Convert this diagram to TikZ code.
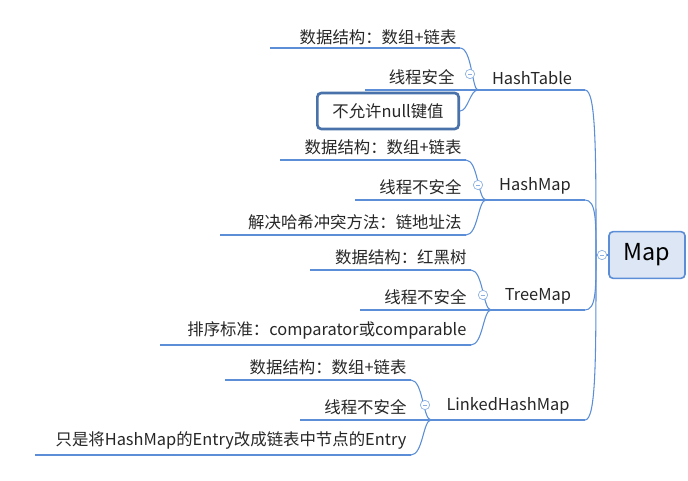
\documentclass[tikz,border=0pt]{standalone}
\usepackage{fontspec}
\setmainfont{Noto Sans CJK SC}
\definecolor{ln}{HTML}{5B8ED6}
\definecolor{mapfill}{HTML}{DCE6F4}
\begin{document}
\begin{tikzpicture}[x=0.75pt,y=-0.75pt,
  lf/.style={font=\fontsize{12.3}{14}\selectfont, inner sep=1pt, anchor=south east, text=black!85},
  par/.style={font=\fontsize{12.3}{14}\selectfont, inner sep=1pt, anchor=south, text=black!85},
  ul/.style={draw=ln, line width=1.3pt},
  cn/.style={draw=ln, line width=0.8pt},
  col/.style={circle, draw=ln!70, fill=white, minimum size=7pt, inner sep=0pt, line width=0.5pt}]
\useasboundingbox (0,0) rectangle (688,481);
% Map
\node[draw=ln, line width=1.2pt, fill=mapfill, rounded corners=3pt, minimum width=57pt, minimum height=35pt,
  font=\fontsize{17.5}{20}\selectfont] (map) at (647,255) {Map};
\coordinate (mj) at (596,255);
\draw[cn] (map.west) -- (mj);
% parents
\coordinate (p1a) at (478,90); \coordinate (p1b) at (585,90);
\coordinate (p2a) at (486,200); \coordinate (p2b) at (585,200);
\coordinate (p3a) at (491,310); \coordinate (p3b) at (585,310);
\coordinate (p4a) at (431,420); \coordinate (p4b) at (585,420);
\foreach \a/\b in {p1a/p1b,p2a/p2b,p3a/p3b,p4a/p4b} \draw[ul] (\a)--(\b);
\node[par] (ht) at (532,86) {HashTable};
\node[par] (hm) at (535,196) {HashMap};
\node[par] (tm) at (538,306) {TreeMap};
\node[par] (lhm) at (508,416) {LinkedHashMap};
\draw[cn] (mj) .. controls (596,150) and (596,90) .. (p1b);
\draw[cn] (mj) .. controls (596,220) and (596,200) .. (p2b);
\draw[cn] (mj) .. controls (596,290) and (596,310) .. (p3b);
\draw[cn] (mj) .. controls (596,360) and (596,420) .. (p4b);
\node[col] (mc) at (602,255) {}; \draw[ln!70, line width=0.5pt] (600,255)--(604,255);
% HashTable children
\node[lf] (a1) at (458,46) {数据结构：数组+链表};
\draw[ul] (270,48)--(460,48) coordinate (a1e);
\node[lf] (a2) at (456,86) {线程安全};
\draw[ul] (365,90)--(460,90) coordinate (a2e);
\node[draw=ln!80!black, line width=2pt, rounded corners=3pt, minimum width=106pt, minimum height=27pt,
  font=\fontsize{12.3}{14}\selectfont, text=black!85] (a3) at (388,111) {不允许null键值};
\coordinate (a3e) at (460,111);
% HashMap children
\node[lf] (b1) at (463,156) {数据结构：数组+链表};
\draw[ul] (280,160)--(466,160) coordinate (b1e);
\node[lf] (b2) at (463,196) {线程不安全};
\draw[ul] (355,200)--(466,200) coordinate (b2e);
\node[lf] (b3) at (463,231) {解决哈希冲突方法：链地址法};
\draw[ul] (220,235)--(466,235) coordinate (b3e);
% TreeMap children
\node[lf] (d1) at (468,266) {数据结构：红黑树};
\draw[ul] (310,270)--(471,270) coordinate (d1e);
\node[lf] (d2) at (468,306) {线程不安全};
\draw[ul] (360,310)--(471,310) coordinate (d2e);
\node[lf] (d3) at (468,341) {排序标准：comparator或comparable};
\draw[ul] (160,345)--(471,345) coordinate (d3e);
% LinkedHashMap children
\node[lf] (e1) at (408,376) {数据结构：数组+链表};
\draw[ul] (225,380)--(411,380) coordinate (e1e);
\node[lf] (e2) at (408,416) {线程不安全};
\draw[ul] (300,420)--(411,420) coordinate (e2e);
\node[lf] (e3) at (408,451) {只是将HashMap的Entry改成链表中节点的Entry};
\draw[ul] (35,455)--(411,455) coordinate (e3e);
% connectors children->parent
\draw[cn] (a1e) .. controls (472,48) and (472,90) .. (p1a);
\draw[cn] (a2e) -- (p1a);
\draw[cn] (a3e) .. controls (468,111) and (470,90) .. (p1a);
\draw[cn] (b1e) .. controls (478,160) and (478,200) .. (p2a);
\draw[cn] (b2e) -- (p2a);
\draw[cn] (b3e) .. controls (478,235) and (478,200) .. (p2a);
\draw[cn] (d1e) .. controls (483,270) and (483,310) .. (p3a);
\draw[cn] (d2e) -- (p3a);
\draw[cn] (d3e) .. controls (483,345) and (483,310) .. (p3a);
\draw[cn] (e1e) .. controls (423,380) and (423,420) .. (p4a);
\draw[cn] (e2e) -- (p4a);
\draw[cn] (e3e) .. controls (423,455) and (423,420) .. (p4a);
% collapse circles
\foreach \n/\x/\y in {c1/470/74,c2/478/185,c3/483/295,c4/425/405}{
  \node[col] (\n) at (\x,\y) {}; \draw[ln!70, line width=0.5pt] (\x-2,\y)--(\x+2,\y);}
\end{tikzpicture}
\end{document}
